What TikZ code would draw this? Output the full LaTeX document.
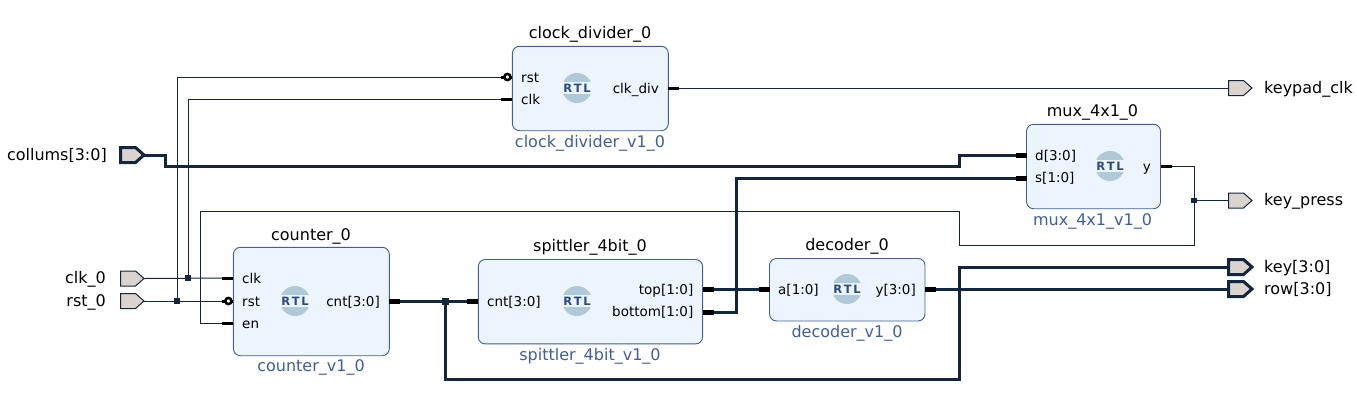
\documentclass[tikz,border=0pt]{standalone}
\usepackage{fontspec}
\setmainfont{DejaVu Sans}
\definecolor{wirec}{HTML}{12263F}
\definecolor{blockfill}{HTML}{ECF4FE}
\definecolor{blockline}{HTML}{3F5E9E}
\definecolor{portfill}{HTML}{DBD3CE}
\definecolor{logoc}{HTML}{B0C9D8}
\definecolor{logot}{HTML}{2B4A7F}
\tikzset{
  blockbox/.style={draw=blockline,fill=blockfill,line width=0.9pt,rounded corners=7pt,inner sep=0pt},
  thinwire/.style={draw=wirec,line width=1pt},
  buswire/.style={draw=wirec,line width=3pt},
  stub/.style={draw=black,line width=3pt},
  busstub/.style={draw=black,line width=5pt},
  inst/.style={font=\fontsize{16}{18}\selectfont,text=black,inner sep=0pt,text height=11pt,text depth=1pt},
  modl/.style={font=\fontsize{16}{18}\selectfont,text=blockline,inner sep=0pt,text height=11pt,text depth=1pt},
  pin/.style={font=\fontsize{13.5}{15}\selectfont,text=black,inner sep=0pt,text height=10pt,text depth=1pt},
  extl/.style={font=\fontsize{16}{18}\selectfont,text=black,inner sep=0pt,text height=11pt,text depth=1pt},
  junct/.style={fill=wirec,inner sep=0pt,minimum size=5.5pt,rectangle},
  bubble/.style={draw=black,fill=white,line width=2.5pt,circle,inner sep=0pt,minimum size=6.2pt},
  logotxt/.style={font=\fontsize{11.5}{12}\selectfont\bfseries,text=logot,inner sep=0pt},
  portthin/.style={draw=wirec,fill=portfill,line width=1pt},
  portbus/.style={draw=wirec,fill=portfill,line width=3pt},
}
\newcommand{\rtllogo}[2]{%
  \fill[logoc] (#1,#2) circle[radius=15pt];
  \fill[blockfill] (#1-15.5,#2-6) rectangle (#1+15.5,#2+5.5);
  \node[logotxt] at (#1,#2) {R\kern1.7pt T\kern1.7pt L};
}
\newcommand{\portshape}[4]{% style, name, x-left, y-center
  \path[#1] (#3,#4-7.5) -- (#3+15,#4-7.5) -- (#3+23.5,#4) -- (#3+15,#4+7.5) -- (#3,#4+7.5) -- cycle;
  \coordinate (#2) at (#3,#4);
  \coordinate (#2tip) at (#3+23.5,#4);
}
\begin{document}
\begin{tikzpicture}[x=1pt,y=-1pt]
\useasboundingbox (0,0) rectangle (1357,408);
% coordinates
\coordinate (cntR) at (389.3,301);
\coordinate (spL) at (478.3,301);
\coordinate (topR) at (702.6,289);
\coordinate (botR) at (702.6,312);
\coordinate (decL) at (769.5,289);
\coordinate (decR) at (925,289);
\coordinate (muxdL) at (1026.5,155.5);
\coordinate (muxsL) at (1026.5,178);
\coordinate (muxR) at (1160.5,166.5);
\coordinate (cdrst) at (512.4,77);
\coordinate (cdclk) at (512.4,99);
\coordinate (cdR) at (668.3,88);
\coordinate (cclk) at (233.4,278);
\coordinate (crst) at (233.4,301);
\coordinate (cen) at (233.4,323.5);
% ports
\portshape{portthin}{clkp}{120.5}{278.5}
\portshape{portthin}{rstp}{120.5}{301}
\portshape{portbus}{colp}{120.5}{155}
\portshape{portthin}{kclkp}{1228.5}{88}
\portshape{portthin}{kpp}{1228.5}{200.5}
\portshape{portbus}{keyp}{1228.5}{267}
\portshape{portbus}{rowp}{1228.5}{289}
% thin wires
\coordinate (j1) at (188,278);
\coordinate (j2) at (177,301);
\coordinate (j3) at (1194,200.5);
\coordinate (j4) at (445,301);
\draw[thinwire] (clkptip) -- (cclk);
\draw[thinwire] (rstptip) -- (crst);
\draw[thinwire] (j1) |- (cdclk);
\draw[thinwire] (j2) |- (cdrst);
\draw[thinwire] (cen) -| (200,211) -| (959.5,245) -| (j3) |- (muxR);
\draw[thinwire] (j3) -- (kpp);
\draw[thinwire] (cdR) -- (kclkp);
% bus wires
\draw[buswire] (colptip) -| (165,166) -| (959.5,155.5) -- (muxdL);
\draw[buswire] (botR) -| (736,178) -- (muxsL);
\draw[buswire] (topR) -- (decL);
\draw[buswire] (cntR) -- (spL);
\draw[buswire] (j4) |- (959.5,379) |- (keyp);
\draw[buswire] (decR) -- (rowp);
% junctions
\node[junct] at (j1) {};
\node[junct] at (j2) {};
\node[junct] at (j3) {};
\node[junct,minimum size=7pt] at (j4) {};
% blocks
\node[blockbox,minimum width=155.9pt,minimum height=108.4pt] (counter) at (311.35,301.5) {};
\node[blockbox,minimum width=155.9pt,minimum height=84.4pt] (clkdiv) at (590.35,88.5) {};
\node[blockbox,minimum width=134pt,minimum height=84.4pt] (mux) at (1093.5,166.5) {};
\node[blockbox,minimum width=224.3pt,minimum height=84.4pt] (spit) at (590.45,301.7) {};
\node[blockbox,minimum width=155.5pt,minimum height=62.5pt] (dec) at (847.25,289.7) {};
% stubs
\draw[stub] (cclk) -- ++(-11,0);
\draw[stub] (cen) -- ++(-11,0);
\draw[stub] (crst) -- ++(-11,0);
\draw[stub] (cdclk) -- ++(-11,0);
\draw[stub] (cdrst) -- ++(-11,0);
\draw[stub] (cdR) -- ++(11,0);
\draw[stub] (muxR) -- ++(11,0);
\draw[busstub] (cntR) -- ++(11,0);
\draw[busstub] (spL) -- ++(-11,0);
\draw[busstub] (topR) -- ++(11,0);
\draw[busstub] (botR) -- ++(11,0);
\draw[busstub] (decL) -- ++(-11,0);
\draw[busstub] (decR) -- ++(11,0);
\draw[busstub] (muxdL) -- ++(-11,0);
\draw[busstub] (muxsL) -- ++(-11,0);
\node[bubble] (b1) at (228.4,301) {};
\node[bubble] (b2) at (507.4,77) {};
% logos
\rtllogo{295}{301}
\rtllogo{577}{88}
\rtllogo{1110}{166}
\rtllogo{577}{301}
\rtllogo{847}{289}
% instance labels
\node[inst] (t1) at (311,235.5) {counter\_0};
\node[inst] (t2) at (590,33.5) {clock\_divider\_0};
\node[inst] (t3) at (1092.5,111.5) {mux\_4x1\_0};
\node[inst] (t4) at (590,246.5) {spittler\_4bit\_0};
\node[inst] (t5) at (847,245.5) {decoder\_0};
% module labels
\node[modl] (m1) at (311,366) {counter\_v1\_0};
\node[modl] (m2) at (590,142) {clock\_divider\_v1\_0};
\node[modl] (m3) at (1092.5,220) {mux\_4x1\_v1\_0};
\node[modl] (m4) at (590,355) {spittler\_4bit\_v1\_0};
\node[modl] (m5) at (847,332) {decoder\_v1\_0};
% pins
\node[pin,anchor=west] (p1) at (242,279) {clk};
\node[pin,anchor=west] (p2) at (242,301.5) {rst};
\node[pin,anchor=west] (p3) at (242,323.5) {en};
\node[pin,anchor=east] (p4) at (380,301.5) {cnt[3:0]};
\node[pin,anchor=west] (p5) at (521,77.5) {rst};
\node[pin,anchor=west] (p6) at (521,99.5) {clk};
\node[pin,anchor=east] (p7) at (659,88.5) {clk\_div};
\node[pin,anchor=west] (p8) at (1035,155.5) {d[3:0]};
\node[pin,anchor=west] (p9) at (1035,178) {s[1:0]};
\node[pin,anchor=east] (p10) at (1151,167) {y};
\node[pin,anchor=west] (p11) at (487,301.5) {cnt[3:0]};
\node[pin,anchor=east] (p12) at (693.5,289.5) {top[1:0]};
\node[pin,anchor=east] (p13) at (693.5,312) {bottom[1:0]};
\node[pin,anchor=west] (p14) at (778,289.5) {a[1:0]};
\node[pin,anchor=east] (p15) at (916,289.5) {y[3:0]};
% external labels
\node[extl,anchor=east] (e1) at (107,155) {collums[3:0]};
\node[extl,anchor=east] (e2) at (106,278) {clk\_0};
\node[extl,anchor=east] (e3) at (106,301) {rst\_0};
\node[extl,anchor=west] (e4) at (1264,88) {keypad\_clk};
\node[extl,anchor=west] (e5) at (1264,200) {key\_press};
\node[extl,anchor=west] (e6) at (1264,267) {key[3:0]};
\node[extl,anchor=west] (e7) at (1264,289) {row[3:0]};
\end{tikzpicture}
\end{document}
